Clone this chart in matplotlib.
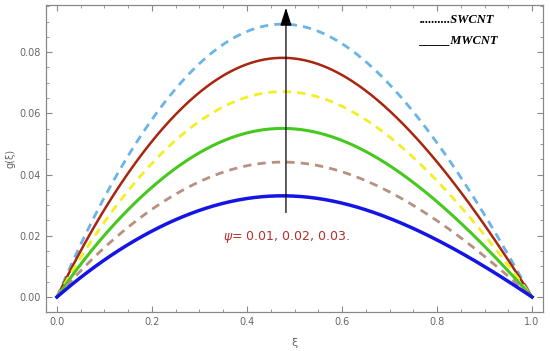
import numpy as np
import matplotlib
matplotlib.use("Agg")
import matplotlib.pyplot as plt
from matplotlib.ticker import MultipleLocator

xi = [0.0, 0.05, 0.1, 0.15, 0.2, 0.25, 0.3, 0.35, 0.4, 0.45, 0.5,
      0.55, 0.6, 0.65, 0.7, 0.75, 0.8, 0.85, 0.9, 0.95, 1.0]

swcnt_1 = [0.0, 0.0169, 0.0329, 0.0463, 0.0579, 0.0676, 0.0765, 0.0828, 0.0868, 0.0887, 0.0888,
           0.0868, 0.0828, 0.0770, 0.0694, 0.0605, 0.0503, 0.0392, 0.0267, 0.0138, 0.0]
mwcnt_1 = [0.0, 0.0148, 0.0289, 0.0406, 0.0507, 0.0593, 0.0671, 0.0725, 0.0761, 0.0778, 0.0778,
           0.0761, 0.0725, 0.0675, 0.0608, 0.0530, 0.0441, 0.0343, 0.0234, 0.0121, 0.0]
swcnt_2 = [0.0, 0.0127, 0.0248, 0.0348, 0.0436, 0.0509, 0.0576, 0.0623, 0.0653, 0.0668, 0.0669,
           0.0653, 0.0623, 0.0580, 0.0523, 0.0456, 0.0379, 0.0295, 0.0201, 0.0104, 0.0]
mwcnt_2 = [0.0, 0.0105, 0.0204, 0.0286, 0.0358, 0.0418, 0.0473, 0.0512, 0.0536, 0.0548, 0.0549,
           0.0536, 0.0512, 0.0476, 0.0429, 0.0374, 0.0311, 0.0242, 0.0165, 0.0085, 0.0]
swcnt_3 = [0.0, 0.0084, 0.0163, 0.0229, 0.0286, 0.0334, 0.0378, 0.0409, 0.0429, 0.0439, 0.0439,
           0.0429, 0.0409, 0.0381, 0.0343, 0.0299, 0.0249, 0.0194, 0.0132, 0.0068, 0.0]
mwcnt_3 = [0.0, 0.0063, 0.0122, 0.0172, 0.0215, 0.0251, 0.0284, 0.0307, 0.0322, 0.0329, 0.0329,
           0.0322, 0.0307, 0.0285, 0.0257, 0.0224, 0.0186, 0.0145, 0.0099, 0.0051, 0.0]

curves = [
    (swcnt_1, "#6ab4e8", (0, (3, 2.2)), 2.0),
    (mwcnt_1, "#a8250f", "-", 1.8),
    (swcnt_2, "#f2ef24", (0, (3, 2.2)), 2.0),
    (mwcnt_2, "#46c81e", "-", 2.2),
    (swcnt_3, "#b89080", (0, (3, 2.2)), 2.0),
    (mwcnt_3, "#1414e6", "-", 2.5),
]

fig = plt.figure(figsize=(5.5, 3.51), dpi=100)
ax = fig.add_axes([46/550, 1 - 312/351, (543-46)/550, (312-5)/351])

xs = np.array(xi)
xf = np.linspace(0, 1, 300)
for vals, col, ls, lw in curves:
    coef = np.polyfit(xs, np.array(vals), 8)
    yf = np.polyval(coef, xf)
    yf[0] = 0; yf[-1] = 0
    ax.plot(xf, yf, color=col, linestyle=ls, linewidth=lw)

ax.annotate("", xy=(0.482, 0.0945), xytext=(0.482, 0.0276),
            arrowprops=dict(arrowstyle="-|>,head_width=0.35,head_length=1.1",
                            color="black", lw=0.9, shrinkA=0, shrinkB=0))
ax.text(0.35, 0.0197, r"$\it{\psi}$= 0.01, 0.02, 0.03.", color="#b0302c", fontsize=9,
        va="center", ha="left")

ax.text(0.763, 0.0905, "..........SWCNT", fontsize=9, fontstyle="italic", fontweight="bold",
        family="Liberation Serif", va="center")
ax.text(0.763, 0.0838, "_____MWCNT", fontsize=9, fontstyle="italic", fontweight="bold",
        family="Liberation Serif", va="center")

ax.set_xlim(-0.023, 1.023)
ax.set_ylim(-0.0049, 0.0954)
ax.xaxis.set_major_locator(MultipleLocator(0.2))
ax.xaxis.set_minor_locator(MultipleLocator(0.05))
ax.yaxis.set_major_locator(MultipleLocator(0.02))
ax.yaxis.set_minor_locator(MultipleLocator(0.005))
ax.xaxis.set_major_formatter(matplotlib.ticker.FormatStrFormatter("%.1f"))
ax.yaxis.set_major_formatter(matplotlib.ticker.FormatStrFormatter("%.2f"))
ax.tick_params(which="both", direction="in", top=True, right=True, color="#888888",
               labelcolor="#666666", labelsize=7)
ax.tick_params(which="major", length=4, width=0.8)
ax.tick_params(which="minor", length=2, width=0.6)
for s in ax.spines.values():
    s.set_color("#888888")
    s.set_linewidth(0.9)

ax.set_xlabel("ξ", color="#666666", fontsize=8, labelpad=8)
ax.set_ylabel("g(ξ)", color="#666666", fontsize=7, labelpad=3)

fig.savefig("out.png", dpi=100)
